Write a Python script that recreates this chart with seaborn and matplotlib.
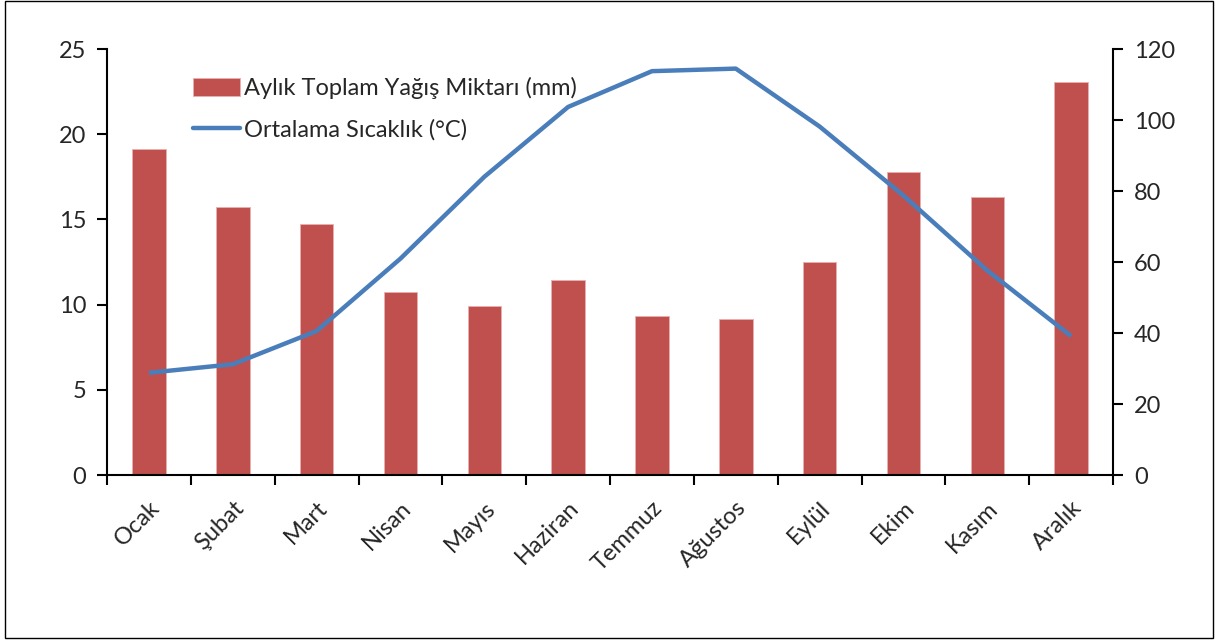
import matplotlib
matplotlib.use("Agg")
import matplotlib.pyplot as plt
from matplotlib.patches import Rectangle, Patch
from matplotlib.lines import Line2D
import seaborn as sns
import pandas as pd
import numpy as np

# Monthly climate data
months = ["Ocak", "Şubat", "Mart", "Nisan", "Mayıs", "Haziran",
          "Temmuz", "Ağustos", "Eylül", "Ekim", "Kasım", "Aralık"]
precip_mm = [91.9, 75.4, 70.7, 51.6, 47.7, 54.8, 44.9, 43.9, 60.1, 85.4, 78.4, 110.8]
temp_c = [6.0, 6.5, 8.45, 12.7, 17.5, 21.6, 23.7, 23.85, 20.45, 16.4, 12.0, 8.15]

bar_label = "Aylık Toplam Yağış Miktarı (mm)"
line_label = "Ortalama Sıcaklık (°C)"

df = pd.DataFrame({"ay": months, "yagis": precip_mm, "sicaklik": temp_c})

sns.set_theme(style="white")
plt.rcParams["font.family"] = ["Lato", "DejaVu Sans"]

bar_color = "#C0504D"
line_color = "#4A7EBB"
fs = 17

fig = plt.figure(figsize=(12.19, 6.44), dpi=100)
ax = fig.add_axes([0.0878, 0.2624, 0.8253, 0.6615])
ax2 = ax.twinx()

# bars on right axis (mm), line on left axis (°C)
sns.barplot(data=df, x="ay", y="yagis", ax=ax2, color=bar_color, width=0.4,
            saturation=1, edgecolor="#E8B0AE", linewidth=0.6)
sns.lineplot(x=np.arange(len(months)), y=df["sicaklik"], ax=ax,
             color=line_color, linewidth=3.2, solid_capstyle="butt")

ax.set_zorder(ax2.get_zorder() + 1)
ax.patch.set_visible(False)

ax.set_xlim(-0.5, len(months) - 0.5)
ax2.set_xlim(-0.5, len(months) - 0.5)
ax.set_ylim(0, 25)
ax2.set_ylim(0, 120)
ax.set_yticks(range(0, 26, 5))
ax2.set_yticks(range(0, 121, 20))

# ticks at category boundaries, labels at centers
for a in (ax, ax2):
    a.set_xticks(np.arange(-0.5, len(months), 1.0))
    a.set_xticklabels([])
    a.set_xlabel("")
    a.set_ylabel("")
ax2.tick_params(axis="x", bottom=False, labelbottom=False)
ax.set_xticks(np.arange(len(months)), minor=True)
ax.set_xticklabels(months, minor=True, rotation=45, ha="right",
                   rotation_mode="anchor", fontsize=fs)
ax.tick_params(axis="x", which="minor", length=0, pad=16)
ax.tick_params(axis="x", which="major", direction="out", length=7, width=1.5,
               bottom=True, color="black")
ax.tick_params(axis="y", direction="out", length=7, width=1.5, left=True,
               labelsize=fs, pad=8, color="black")
ax2.tick_params(axis="y", direction="out", length=7, width=1.5, right=True,
                labelsize=fs, pad=8, color="black")

for a in (ax, ax2):
    a.spines["top"].set_visible(False)
    for s in ("left", "right", "bottom"):
        a.spines[s].set_color("black")
        a.spines[s].set_linewidth(1.5)
ax.spines["right"].set_visible(False)
ax2.spines["left"].set_visible(False)
ax2.spines["bottom"].set_visible(False)

handles = [Patch(facecolor=bar_color, edgecolor="#E8B0AE", linewidth=0.6),
           Line2D([0], [0], color=line_color, linewidth=3.2)]
ax.legend(handles, [bar_label, line_label], loc="upper left",
          bbox_to_anchor=(0.085, 0.935), frameon=False, fontsize=fs,
          handlelength=2.0, handleheight=0.8, handletextpad=0.2,
          labelspacing=0.85, borderpad=0, borderaxespad=0)

fig.patches.append(Rectangle((0.004, 0.01), 0.991, 0.989, transform=fig.transFigure,
                             fill=False, edgecolor="black", linewidth=1))

fig.savefig("out.png", dpi=100)
